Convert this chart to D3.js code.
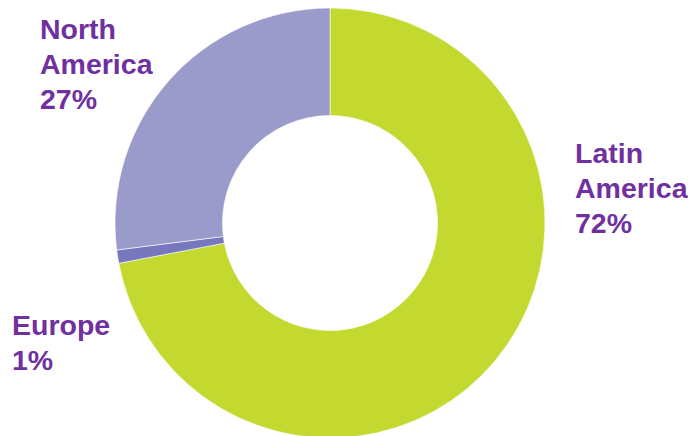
<!DOCTYPE html>
<html>
<head>
<meta charset="utf-8">
<script src="https://cdn.jsdelivr.net/npm/d3@7"></script>
<style>
  html, body { margin: 0; padding: 0; background: #fff; }
  svg { display: block; }
</style>
</head>
<body>
<svg id="chart" width="692" height="436"></svg>
<script>
// Regions and their share (%), in drawing order clockwise from 12 o'clock
const regions = ["Latin America", "Europe", "North America"];
const shares = [72, 1, 27];
const sliceColors = ["#C3D92F", "#7777BD", "#9B9BCB"];
// Label lines for each region
const labelLines = [
  ["Latin", "America", "72%"],
  ["Europe", "1%"],
  ["North", "America", "27%"]
];

const width = 692, height = 436;
const cx = 330, cy = 223;
const outerR = 215, innerR = 107.5;

const svg = d3.select("#chart");

const data = regions.map((r, i) => ({ region: r, share: shares[i], color: sliceColors[i], lines: labelLines[i] }));

const pie = d3.pie().sort(null).value(d => d.share).startAngle(0).endAngle(2 * Math.PI);
const arc = d3.arc().innerRadius(innerR).outerRadius(outerR);

const g = svg.append("g").attr("transform", `translate(${cx},${cy})`);

g.selectAll("path.slice")
  .data(pie(data))
  .join("path")
  .attr("class", "slice")
  .attr("d", arc)
  .attr("fill", d => d.data.color)
  .attr("stroke", "#ffffff")
  .attr("stroke-width", 0.6);

// Text labels placed beside the ring
const labelPos = {
  "Latin America": { x: 575, y: 163 },
  "Europe": { x: 12, y: 335 },
  "North America": { x: 40, y: 39 }
};
const lineH = 35;

const labels = svg.selectAll("text.label")
  .data(data)
  .join("text")
  .attr("class", "label")
  .attr("x", d => labelPos[d.region].x)
  .attr("y", d => labelPos[d.region].y)
  .attr("fill", "#7030A0")
  .attr("font-family", "'Liberation Sans', Arial, sans-serif")
  .attr("font-weight", "bold")
  .attr("font-size", "28.5px");

labels.selectAll("tspan")
  .data(d => d.lines.map((t, i) => ({ t, i, x: labelPos[d.region].x })))
  .join("tspan")
  .attr("x", d => d.x)
  .attr("dy", d => d.i === 0 ? 0 : lineH)
  .text(d => d.t);
</script>
</body>
</html>
